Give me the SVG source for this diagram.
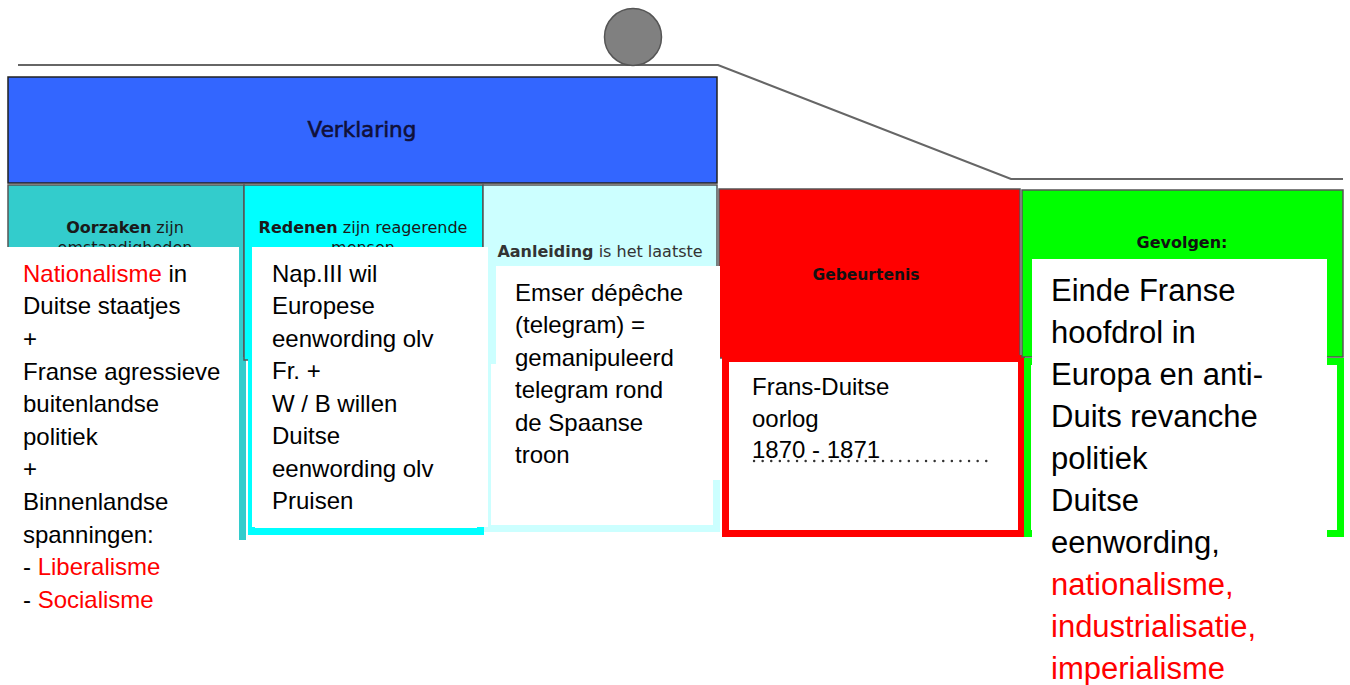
<svg xmlns="http://www.w3.org/2000/svg" width="1350" height="685" viewBox="0 0 1350 685">
<style>
.hdr{font-family:"DejaVu Sans",sans-serif;font-size:16px;fill:#1a1a1a;text-anchor:middle}
.b{font-weight:bold}
.body{font-family:"Liberation Sans",Arial,sans-serif;font-size:24px;fill:#000}
.big{font-size:31px}
.red{fill:#ff0000}
.cell{stroke:#555;stroke-width:1.5}
.frame{fill:#fff;stroke-width:7}
.wbox{fill:#fff}
</style>
<rect width="1350" height="685" fill="#fff"/>
<g id="timeline">
<polyline points="18,65 718,65 1011,179 1343,179" fill="none" stroke="#666" stroke-width="2.2"/>
<circle cx="633" cy="37" r="28.5" fill="#808080" stroke="#555" stroke-width="1.5"/>
</g>
<g id="verklaring">
<rect x="8" y="77" width="709" height="106" fill="#3366ff" stroke="#222" stroke-width="1.5"/>
<text x="362" y="137" class="hdr" style="font-size:21.5px;fill:#10103a;stroke:#10103a;stroke-width:0.6">Verklaring</text>
</g>
<g id="oorzaken">
<rect class="cell" x="8" y="185" width="236" height="175" fill="#33cccc"/>
<text x="125" y="233" class="hdr"><tspan class="b">Oorzaken</tspan> zijn</text>
<text x="125" y="253" class="hdr">omstandigheden</text>
<rect class="frame" x="10.5" y="360.5" width="232" height="176" stroke="#33cccc"/>
</g>
<g id="redenen">
<rect class="cell" x="244" y="185" width="239" height="175" fill="#00ffff"/>
<text x="363" y="233" class="hdr"><tspan class="b">Redenen</tspan> zijn reagerende</text>
<text x="363" y="253" class="hdr">mensen</text>
<rect class="frame" x="251.5" y="360.5" width="229" height="171" stroke="#00ffff"/>
</g>
<g id="aanleiding">
<rect class="cell" x="483" y="185" width="234" height="175" fill="#ccffff"/>
<text x="600" y="257" class="hdr" style="fill:#333"><tspan class="b">Aanleiding</tspan> is het laatste</text>
<rect class="frame" x="487.5" y="360.5" width="229" height="168" stroke="#ccffff"/>
</g>
<g id="gebeurtenis">
<rect class="cell" x="719" y="189" width="301" height="169" fill="#ff0000"/>
<text x="866" y="280" class="hdr b" style="font-size:15.5px;fill:#111">Gebeurtenis</text>
<rect class="frame" x="725.5" y="358.5" width="296" height="175" stroke="#ff0000"/>
<text class="body" x="752" y="395">Frans-Duitse</text>
<text class="body" x="752" y="427">oorlog</text>
<text class="body" x="752" y="458">1870 - 1871</text>
<line x1="754" y1="461" x2="993" y2="461" stroke="#333" stroke-width="2.4" stroke-linecap="round" stroke-dasharray="0.1 8.5"/>
</g>
<g id="gevolgen">
<rect class="cell" x="1022" y="190" width="321" height="167" fill="#00ff00"/>
<text x="1182" y="248" class="hdr b" style="fill:#111">Gevolgen:</text>
<rect class="frame" x="1027.5" y="361.5" width="313" height="172" stroke="#00ff00" stroke-width="9"/>
</g>
<g id="oorzaken-tekst">
<rect class="wbox" x="7" y="247" width="232" height="380"/>
<text class="body" x="23">
<tspan x="23" y="281.7"><tspan class="red">Nationalisme</tspan> in</tspan>
<tspan x="23" y="314.3">Duitse staatjes</tspan>
<tspan x="23" y="346.9">+</tspan>
<tspan x="23" y="379.5">Franse agressieve</tspan>
<tspan x="23" y="412.1">buitenlandse</tspan>
<tspan x="23" y="444.7">politiek</tspan>
<tspan x="23" y="477.3">+</tspan>
<tspan x="23" y="509.9">Binnenlandse</tspan>
<tspan x="23" y="542.5">spanningen:</tspan>
<tspan x="23" y="575.1">- <tspan class="red">Liberalisme</tspan></tspan>
<tspan x="23" y="607.7">- <tspan class="red">Socialisme</tspan></tspan>
</text>
</g>
<g id="redenen-tekst">
<rect class="wbox" x="252" y="247" width="236" height="280"/>
<text class="body">
<tspan x="272" y="281.7">Nap.III wil</tspan>
<tspan x="272" y="314.2">Europese</tspan>
<tspan x="272" y="346.7">eenwording olv</tspan>
<tspan x="272" y="379.2">Fr. +</tspan>
<tspan x="272" y="411.7">W / B willen</tspan>
<tspan x="272" y="444.2">Duitse</tspan>
<tspan x="272" y="476.7">eenwording olv</tspan>
<tspan x="272" y="509.2">Pruisen</tspan>
</text>
</g>
<g id="aanleiding-tekst">
<rect class="wbox" x="496" y="266" width="224" height="214"/>
<text class="body">
<tspan x="515" y="300.5">Emser dépêche</tspan>
<tspan x="515" y="333">(telegram) =</tspan>
<tspan x="515" y="365.5">gemanipuleerd</tspan>
<tspan x="515" y="398">telegram rond</tspan>
<tspan x="515" y="430.5">de Spaanse</tspan>
<tspan x="515" y="463">troon</tspan>
</text>
</g>
<g id="gevolgen-tekst">
<rect class="wbox" x="1032" y="259" width="295" height="426"/>
<text class="body big">
<tspan x="1051" y="300.5">Einde Franse</tspan>
<tspan x="1051" y="342.6">hoofdrol in</tspan>
<tspan x="1051" y="384.7">Europa en anti-</tspan>
<tspan x="1051" y="426.8">Duits revanche</tspan>
<tspan x="1051" y="468.9">politiek</tspan>
<tspan x="1051" y="511">Duitse</tspan>
<tspan x="1051" y="553.1">eenwording,</tspan>
<tspan x="1051" y="595.2" class="red">nationalisme,</tspan>
<tspan x="1051" y="637.3" class="red">industrialisatie,</tspan>
<tspan x="1051" y="679.4" class="red">imperialisme</tspan>
</text>
</g>
</svg>
